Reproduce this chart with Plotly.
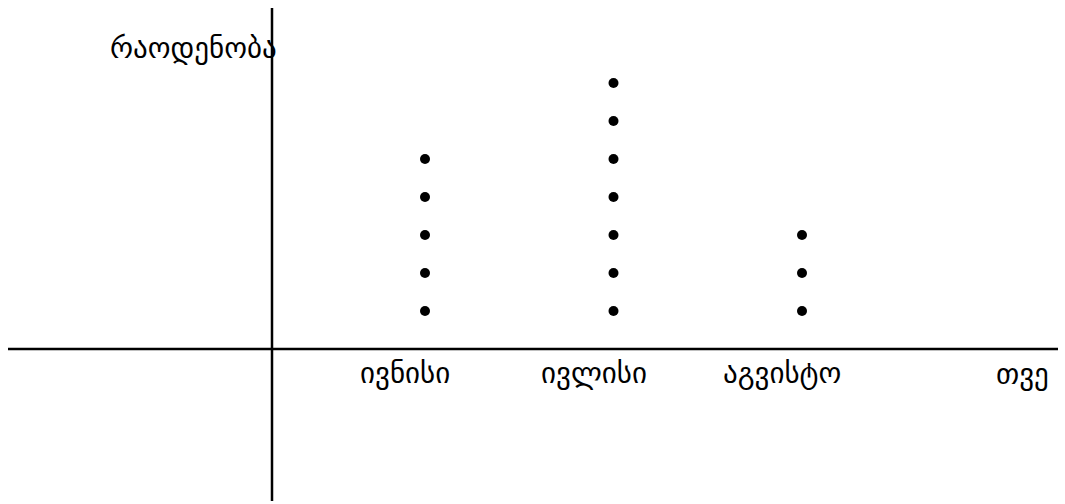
import plotly.graph_objects as go

# Months and how many dots stack above each
months = ["ივნისი", "ივლისი", "აგვისტო"]
counts = [5, 7, 3]
x_title = "თვე"
y_title = "რაოდენობა"

W, H = 1065, 504
# pixel geometry of the plotting frame
unit_x = 188.5          # px between months
first_x_px = 425        # px of first month column
unit_y = 38             # px per dot step
zero_y_px = 349         # px of the horizontal axis
axis_x_px = 272         # px of the vertical axis

x_lo = 1 - first_x_px / unit_x
x_hi = 1 + (W - first_x_px) / unit_x
y_hi = zero_y_px / unit_y
y_lo = -(H - zero_y_px) / unit_y

xs, ys = [], []
for i, c in enumerate(counts):
    for k in range(1, c + 1):
        xs.append(i + 1)
        ys.append(k)

font = "DejaVu Sans"
fsize = 29
fig = go.Figure()
fig.add_trace(go.Scatter(
    x=xs, y=ys, mode="markers",
    marker=dict(color="black", size=10, line=dict(width=0)),
    hoverinfo="skip", showlegend=False,
))

# axis lines crossing at the origin
fig.add_shape(type="line", xref="paper", yref="paper",
              x0=8 / W, x1=1058 / W, y0=1 - zero_y_px / H, y1=1 - zero_y_px / H,
              line=dict(color="black", width=2.5))
fig.add_shape(type="line", xref="paper", yref="paper",
              x0=axis_x_px / W, x1=axis_x_px / W, y0=1 - 8 / H, y1=1 - 501 / H,
              line=dict(color="black", width=2.5))

# month labels under the axis
for i, m in enumerate(months):
    fig.add_annotation(x=i + 1, y=0, text=m, showarrow=False, xshift=-20, yshift=-24,
                       xanchor="center", yanchor="middle",
                       font=dict(family=font, size=fsize, color="black"))

fig.add_annotation(xref="paper", yref="paper", x=1022 / W, y=1 - 374 / H, text=x_title,
                   showarrow=False, xanchor="center", yanchor="middle",
                   font=dict(family=font, size=fsize, color="black"))
fig.add_annotation(xref="paper", yref="paper", x=193 / W, y=1 - 48 / H, text=y_title,
                   showarrow=False, xanchor="center", yanchor="middle",
                   font=dict(family=font, size=fsize, color="black"))

fig.update_xaxes(range=[x_lo, x_hi], visible=False)
fig.update_yaxes(range=[y_lo, y_hi], visible=False)
fig.update_layout(width=W, height=H, margin=dict(l=0, r=0, t=0, b=0),
                  plot_bgcolor="white", paper_bgcolor="white")
fig.write_html("out.html")
